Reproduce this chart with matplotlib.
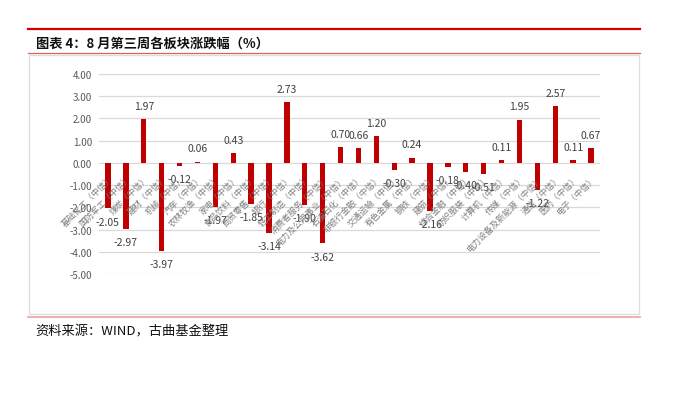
import matplotlib
matplotlib.use("Agg")
import matplotlib.pyplot as plt
from matplotlib.lines import Line2D
from matplotlib.patches import Rectangle

plt.rcParams['font.family'] = ['Noto Sans CJK SC', 'DejaVu Sans']

# data
sectors = ['基础化工', '国防军工', '煤炭', '建材', '机械', '汽车', '农林牧渔', '家电',
           '食品饮料', '商贸零售', '银行', '轻工制造', '消费者服务', '电力及公用事业',
           '石油石化', '非银行金融', '交通运输', '有色金属', '钢铁', '建筑', '综合金融',
           '纺织服装', '计算机', '传媒', '电力设备及新能源', '通信', '医药', '电子']
changes = [-2.05, -2.97, 1.97, -3.97, -0.12, 0.06, -1.97, 0.43, -1.85, -3.14, 2.73,
           -1.90, -3.62, 0.70, 0.66, 1.20, -0.30, 0.24, -2.16, -0.18, -0.40, -0.51,
           0.11, 1.95, -1.22, 2.57, 0.11, 0.67]
yticks = [4, 3, 2, 1, 0, -1, -2, -3, -4, -5]

W, H = 691, 402
fig = plt.figure(figsize=(W / 100, H / 100), dpi=100)

def fx(px):
    return px / W

def fy(py):
    return 1 - py / H

# frame decorations
fig.add_artist(Line2D([fx(28), fx(640)], [fy(30), fy(30)], color='#d40000', lw=1.6))
fig.text(fx(36), fy(44), '图表 4：8 月第三周各板块涨跌幅（%）', fontsize=9.5,
         fontweight='bold', va='center', ha='left', color='#111111')
fig.add_artist(Line2D([fx(28), fx(640)], [fy(53.5), fy(53.5)], color='#e06060', lw=0.9))
fig.add_artist(Rectangle((fx(29), fy(315)), fx(639) - fx(29), fy(56) - fy(315),
                         transform=fig.transFigure, fill=False, ec='#dedede', lw=0.9))
fig.add_artist(Line2D([fx(28), fx(640)], [fy(318), fy(318)], color='#f0a0a0', lw=1.2))
fig.text(fx(35), fy(332), '资料来源：WIND，古曲基金整理', fontsize=9.5,
         va='center', ha='left', color='#111111')

# chart
ax = fig.add_axes([fx(99), fy(275), fx(600) - fx(99), fy(75) - fy(275)])
x = list(range(len(changes)))
ax.bar(x, changes, width=0.3, color='#c00000', zorder=3)
ax.set_xlim(-0.5, len(changes) - 0.5)
ax.set_ylim(-5, 4)
ax.set_yticks(yticks)
ax.set_yticklabels([f'{v:.2f}' for v in yticks], fontsize=7, color='#595959')
ax.tick_params(axis='y', length=0, pad=5)
ax.set_xticks([])
for s in ax.spines.values():
    s.set_visible(False)
ax.grid(axis='y', color='#d9d9d9', lw=0.9, zorder=0)
ax.patch.set_alpha(0)

for i, v in enumerate(changes):
    off = 9.5 if v >= 0 else -9.5
    ax.annotate(f'{v:.2f}', (i, v), xytext=(0, off), textcoords='offset points',
                ha='center', va='center', fontsize=7.5, color='#404040', zorder=4)
    ax.text(i + 0.05, -0.45, sectors[i] + '（中信）', rotation=45, rotation_mode='anchor',
            ha='right', va='top', fontsize=6.2, color='#7f7f7f', zorder=5)

fig.savefig('out.png', dpi=100)
